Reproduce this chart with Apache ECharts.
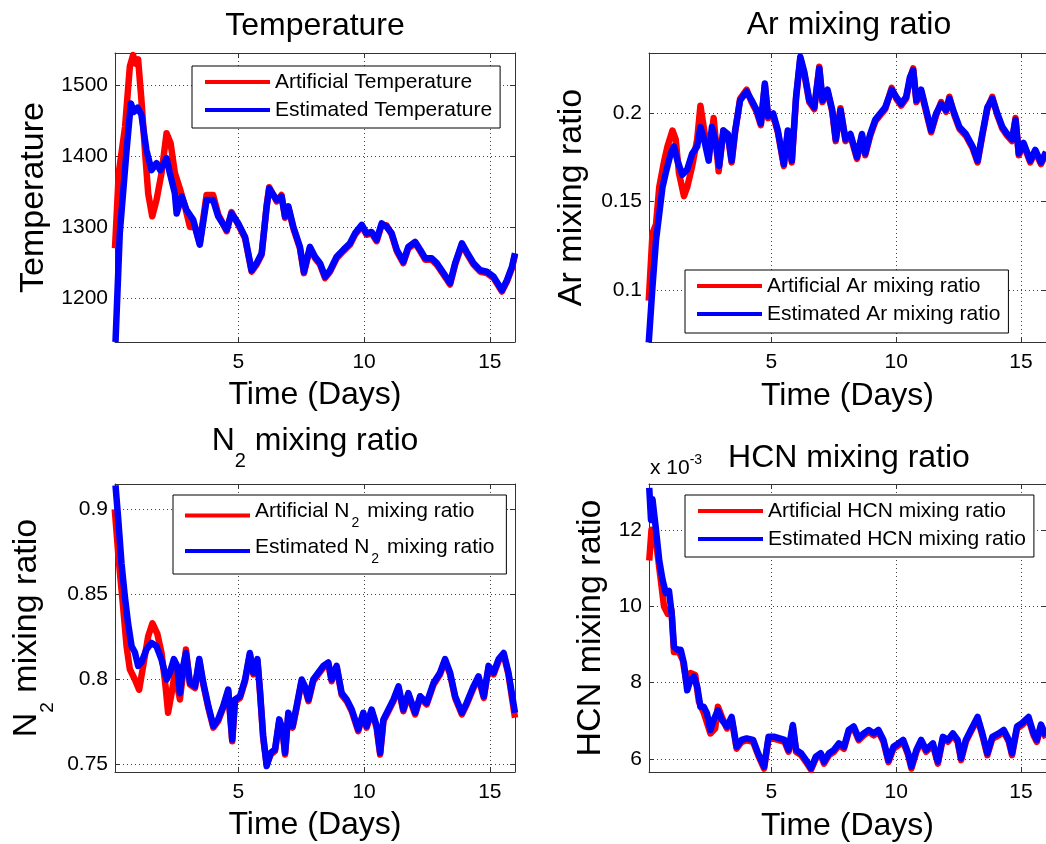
<!DOCTYPE html>
<html><head><meta charset="utf-8">
<script src="https://cdn.jsdelivr.net/npm/echarts@6/dist/echarts.min.js"></script>
<style>html,body{margin:0;padding:0;background:#fff}#c{width:1046px;height:844px}</style>
</head><body><div id="c"></div>
<script>
const FONT = '"Liberation Sans", Arial, Helvetica, sans-serif';

// ---- data: [time (days), value] ----
const tempEst = [[0.12,1138],[0.29,1291],[0.56,1408],[0.73,1474],[0.85,1462],[1.0,1468],[1.15,1458],[1.35,1408],[1.55,1380],[1.75,1390],[1.9,1380],[2.15,1397],[2.28,1376],[2.48,1347],[2.55,1319],[2.75,1343],[2.94,1324],[3.21,1310],[3.47,1275],[3.74,1338],[4.0,1338],[4.2,1315],[4.54,1296],[4.73,1319],[5.0,1305],[5.27,1286],[5.53,1239],[5.73,1249],[5.93,1263],[6.13,1329],[6.23,1354],[6.53,1338],[6.72,1343],[6.86,1315],[6.99,1329],[7.19,1300],[7.45,1272],[7.61,1237],[7.85,1272],[8.05,1258],[8.25,1249],[8.45,1230],[8.65,1239],[8.91,1258],[9.18,1268],[9.44,1277],[9.64,1291],[9.91,1303],[10.1,1291],[10.3,1293],[10.5,1282],[10.7,1305],[10.9,1300],[11.1,1291],[11.3,1268],[11.56,1251],[11.76,1272],[12.03,1279],[12.23,1268],[12.43,1256],[12.69,1256],[12.89,1249],[13.16,1235],[13.42,1221],[13.62,1249],[13.89,1277],[14.08,1265],[14.35,1249],[14.62,1239],[14.88,1237],[15.15,1230],[15.48,1211],[15.68,1225],[15.88,1244],[16.0,1263]];
const tempArt = [[0.1,1270],[0.25,1376],[0.5,1441],[0.69,1526],[0.82,1542],[0.92,1530],[1.02,1536],[1.15,1479],[1.29,1408],[1.42,1347],[1.58,1315],[1.75,1338],[1.95,1376],[2.15,1432],[2.31,1418],[2.48,1376],[2.68,1354],[2.88,1329],[3.08,1300],[3.28,1300],[3.47,1277],[3.74,1345],[4.0,1345],[4.2,1318],[4.54,1294],[4.73,1321],[5.0,1303],[5.27,1284],[5.53,1237],[5.73,1247],[5.93,1261],[6.13,1331],[6.23,1356],[6.53,1336],[6.72,1345],[6.86,1313],[6.99,1327],[7.19,1298],[7.45,1270],[7.61,1235],[7.85,1270],[8.05,1256],[8.25,1247],[8.45,1228],[8.65,1237],[8.91,1256],[9.18,1266],[9.44,1275],[9.64,1289],[9.91,1301],[10.1,1289],[10.3,1291],[10.5,1280],[10.7,1303],[10.9,1302],[11.1,1289],[11.3,1266],[11.56,1249],[11.76,1270],[12.03,1277],[12.23,1266],[12.43,1254],[12.69,1254],[12.89,1247],[13.16,1233],[13.42,1219],[13.62,1247],[13.89,1275],[14.08,1263],[14.35,1247],[14.62,1237],[14.88,1235],[15.15,1228],[15.48,1209],[15.68,1223],[15.88,1242],[16.0,1261]];

const arEst = [[0.09,0.0705],[0.24,0.102],[0.38,0.128],[0.51,0.143],[0.64,0.158],[0.77,0.166],[0.97,0.177],[1.1,0.181],[1.24,0.173],[1.43,0.165],[1.63,0.168],[1.83,0.177],[2.03,0.181],[2.16,0.192],[2.29,0.186],[2.49,0.173],[2.62,0.192],[2.75,0.185],[2.91,0.170],[3.08,0.190],[3.26,0.188],[3.41,0.173],[3.55,0.190],[3.75,0.207],[4.01,0.212],[4.21,0.207],[4.41,0.2015],[4.58,0.194],[4.74,0.2165],[4.87,0.198],[5.07,0.1996],[5.26,0.190],[5.5,0.171],[5.66,0.190],[5.82,0.173],[5.99,0.209],[6.16,0.2316],[6.32,0.223],[6.52,0.207],[6.72,0.203],[6.92,0.225],[7.05,0.207],[7.25,0.213],[7.44,0.2015],[7.58,0.185],[7.77,0.2015],[7.97,0.185],[8.17,0.188],[8.43,0.175],[8.63,0.188],[8.76,0.177],[8.96,0.188],[9.16,0.196],[9.36,0.1996],[9.56,0.203],[9.82,0.213],[10.0,0.209],[10.2,0.205],[10.4,0.209],[10.55,0.220],[10.68,0.224],[10.81,0.207],[11.0,0.213],[11.2,0.2015],[11.4,0.190],[11.6,0.1996],[11.8,0.205],[12.0,0.2015],[12.13,0.208],[12.33,0.1996],[12.53,0.192],[12.79,0.188],[13.06,0.181],[13.26,0.173],[13.45,0.188],[13.65,0.203],[13.85,0.208],[14.05,0.1996],[14.25,0.192],[14.45,0.188],[14.64,0.185],[14.78,0.196],[14.91,0.177],[15.1,0.183],[15.37,0.173],[15.57,0.179],[15.8,0.172],[16.0,0.178]];
const arArt = [[0.09,0.094],[0.24,0.132],[0.38,0.137],[0.51,0.158],[0.71,0.173],[0.84,0.181],[1.04,0.190],[1.17,0.185],[1.3,0.166],[1.5,0.153],[1.63,0.158],[1.83,0.170],[2.03,0.185],[2.16,0.204],[2.29,0.192],[2.49,0.175],[2.69,0.197],[2.89,0.167],[3.08,0.190],[3.26,0.187],[3.41,0.172],[3.55,0.189],[3.75,0.208],[4.01,0.213],[4.21,0.206],[4.41,0.2005],[4.58,0.193],[4.74,0.2155],[4.87,0.197],[5.07,0.1986],[5.26,0.189],[5.5,0.170],[5.66,0.189],[5.82,0.172],[5.99,0.208],[6.16,0.2306],[6.32,0.222],[6.52,0.206],[6.72,0.202],[6.92,0.226],[7.05,0.206],[7.25,0.212],[7.44,0.2005],[7.58,0.184],[7.77,0.2025],[7.97,0.184],[8.17,0.187],[8.43,0.174],[8.63,0.187],[8.76,0.176],[8.96,0.187],[9.16,0.195],[9.36,0.1986],[9.56,0.202],[9.82,0.214],[10.0,0.208],[10.2,0.204],[10.4,0.208],[10.55,0.219],[10.68,0.225],[10.81,0.206],[11.0,0.212],[11.2,0.2005],[11.4,0.189],[11.6,0.1986],[11.8,0.206],[12.0,0.2005],[12.13,0.209],[12.33,0.1986],[12.53,0.191],[12.79,0.187],[13.06,0.180],[13.26,0.172],[13.45,0.187],[13.65,0.202],[13.85,0.209],[14.05,0.1986],[14.25,0.191],[14.45,0.187],[14.64,0.184],[14.78,0.197],[14.91,0.176],[15.1,0.182],[15.37,0.172],[15.57,0.178],[15.8,0.171],[16.0,0.177]];

const n2Est = [[0.12,0.914],[0.23,0.894],[0.36,0.868],[0.49,0.849],[0.62,0.833],[0.76,0.8195],[0.89,0.816],[1.02,0.808],[1.15,0.810],[1.35,0.8176],[1.55,0.8215],[1.75,0.8195],[1.95,0.8117],[2.15,0.800],[2.28,0.804],[2.44,0.812],[2.57,0.808],[2.68,0.792],[2.81,0.808],[2.92,0.8156],[3.08,0.798],[3.28,0.796],[3.45,0.812],[3.61,0.798],[3.81,0.7844],[4.01,0.7727],[4.2,0.7766],[4.4,0.7844],[4.6,0.7941],[4.76,0.7648],[4.87,0.7883],[5.07,0.7902],[5.27,0.800],[5.46,0.8156],[5.6,0.804],[5.76,0.812],[5.86,0.7941],[5.99,0.7668],[6.13,0.7492],[6.29,0.757],[6.46,0.759],[6.63,0.7766],[6.76,0.7707],[6.86,0.757],[6.99,0.7805],[7.16,0.7727],[7.32,0.7844],[7.52,0.800],[7.65,0.796],[7.79,0.7883],[7.98,0.800],[8.18,0.804],[8.38,0.808],[8.58,0.810],[8.71,0.800],[8.91,0.808],[9.11,0.792],[9.31,0.7883],[9.51,0.7824],[9.77,0.7707],[9.97,0.7805],[10.1,0.7727],[10.3,0.7824],[10.5,0.7727],[10.64,0.757],[10.77,0.7766],[10.97,0.7824],[11.17,0.7883],[11.37,0.796],[11.56,0.7824],[11.76,0.792],[12.03,0.7805],[12.23,0.7902],[12.49,0.7863],[12.76,0.798],[13.02,0.804],[13.22,0.812],[13.42,0.804],[13.62,0.7902],[13.89,0.7805],[14.08,0.7863],[14.35,0.796],[14.55,0.8019],[14.76,0.7902],[14.95,0.808],[15.15,0.804],[15.35,0.812],[15.55,0.8156],[15.74,0.804],[16.0,0.7805]];
const n2Art = [[0.09,0.900],[0.25,0.870],[0.42,0.843],[0.56,0.8195],[0.69,0.806],[0.89,0.800],[1.06,0.794],[1.22,0.808],[1.42,0.8254],[1.59,0.833],[1.78,0.827],[1.95,0.8156],[2.11,0.796],[2.21,0.7805],[2.35,0.792],[2.48,0.804],[2.68,0.7883],[2.92,0.8176],[3.08,0.797],[3.28,0.795],[3.45,0.811],[3.61,0.797],[3.81,0.7834],[4.01,0.7717],[4.2,0.7756],[4.4,0.7834],[4.6,0.7931],[4.76,0.7638],[4.87,0.7873],[5.07,0.7892],[5.27,0.799],[5.46,0.8146],[5.6,0.803],[5.76,0.811],[5.86,0.7931],[5.99,0.7658],[6.13,0.7502],[6.29,0.756],[6.46,0.758],[6.63,0.7756],[6.76,0.7697],[6.86,0.756],[6.99,0.7795],[7.16,0.7717],[7.32,0.7834],[7.52,0.799],[7.65,0.795],[7.79,0.7873],[7.98,0.799],[8.18,0.803],[8.38,0.807],[8.58,0.809],[8.71,0.799],[8.91,0.807],[9.11,0.791],[9.31,0.7873],[9.51,0.7814],[9.77,0.7697],[9.97,0.7795],[10.1,0.7717],[10.3,0.7814],[10.5,0.7717],[10.64,0.756],[10.77,0.7756],[10.97,0.7814],[11.17,0.7873],[11.37,0.795],[11.56,0.7814],[11.76,0.791],[12.03,0.7795],[12.23,0.7892],[12.49,0.7853],[12.76,0.797],[13.02,0.803],[13.22,0.811],[13.42,0.803],[13.62,0.7892],[13.89,0.7795],[14.08,0.7853],[14.35,0.795],[14.55,0.8009],[14.76,0.7892],[14.95,0.807],[15.15,0.803],[15.35,0.811],[15.55,0.8146],[15.74,0.803],[16.0,0.7775]];

// HCN values in units of 1e-3
const hcnEst = [[0.11,13.1],[0.18,12.26],[0.24,12.8],[0.31,12.4],[0.38,12.0],[0.51,11.2],[0.64,10.7],[0.77,10.35],[0.9,10.4],[1.01,9.8],[1.1,8.94],[1.24,8.86],[1.37,8.86],[1.5,8.5],[1.63,7.8],[1.76,8.07],[1.9,8.16],[2.03,7.9],[2.16,7.37],[2.29,7.37],[2.42,7.2],[2.56,6.76],[2.69,7.02],[2.86,7.28],[3.02,7.02],[3.22,6.85],[3.41,7.1],[3.61,6.32],[3.81,6.5],[4.01,6.54],[4.27,6.5],[4.47,6.15],[4.71,5.8],[4.89,6.58],[5.13,6.58],[5.33,6.54],[5.53,6.5],[5.69,6.24],[5.86,6.89],[5.99,6.24],[6.19,6.15],[6.39,5.97],[6.59,5.76],[6.78,6.06],[6.98,6.15],[7.11,5.93],[7.31,6.15],[7.51,6.24],[7.71,6.41],[7.91,6.32],[8.1,6.76],[8.3,6.85],[8.5,6.54],[8.7,6.67],[8.9,6.76],[9.1,6.67],[9.29,6.76],[9.49,6.5],[9.69,5.97],[9.89,6.32],[10.09,6.41],[10.28,6.5],[10.48,6.15],[10.61,5.8],[10.81,6.24],[11.0,6.5],[11.2,6.24],[11.47,6.41],[11.67,5.93],[11.87,6.58],[12.07,6.5],[12.27,6.67],[12.46,6.5],[12.6,6.02],[12.79,6.5],[12.99,6.76],[13.26,7.1],[13.45,6.67],[13.65,6.15],[13.85,6.58],[14.11,6.67],[14.31,6.76],[14.51,6.5],[14.64,6.15],[14.84,6.85],[15.04,6.94],[15.3,7.1],[15.5,6.67],[15.63,6.5],[15.8,6.9],[16.0,6.6]];
const hcnArt = [[0.11,11.2],[0.2,12.0],[0.3,11.9],[0.4,11.6],[0.55,10.8],[0.7,10.0],[0.85,9.8],[1.0,9.9],[1.1,8.8],[1.3,8.8],[1.45,8.6],[1.6,8.0],[1.76,8.25],[1.95,8.2],[2.1,7.5],[2.3,7.2],[2.56,6.67],[2.75,6.8],[2.86,7.37],[3.02,7.1],[3.22,6.8],[3.41,7.05],[3.61,6.27],[3.81,6.45],[4.01,6.49],[4.27,6.45],[4.47,6.1],[4.71,5.75],[4.89,6.53],[5.13,6.53],[5.33,6.49],[5.53,6.45],[5.69,6.19],[5.86,6.84],[5.99,6.19],[6.19,6.1],[6.39,5.92],[6.59,5.72],[6.78,6.01],[6.98,6.1],[7.11,5.88],[7.31,6.1],[7.51,6.19],[7.71,6.36],[7.91,6.27],[8.1,6.71],[8.3,6.8],[8.5,6.49],[8.7,6.62],[8.9,6.71],[9.1,6.62],[9.29,6.71],[9.49,6.45],[9.69,5.92],[9.89,6.27],[10.09,6.36],[10.28,6.45],[10.48,6.1],[10.61,5.75],[10.81,6.19],[11.0,6.45],[11.2,6.19],[11.47,6.36],[11.67,5.88],[11.87,6.53],[12.07,6.45],[12.27,6.62],[12.46,6.45],[12.6,5.97],[12.79,6.45],[12.99,6.71],[13.26,7.05],[13.45,6.62],[13.65,6.1],[13.85,6.53],[14.11,6.62],[14.31,6.71],[14.51,6.45],[14.64,6.1],[14.84,6.8],[15.04,6.89],[15.3,7.05],[15.5,6.62],[15.63,6.45],[15.8,6.85],[16.0,6.55]];

// axis ranges
const xRange = [0.1, 16];
const tempRange = [1138, 1545];
const arRange = [0.0707, 0.2337];
const n2Range = [0.7457, 0.9148];
const hcnRange = [5.66, 13.2];

const AX = '#333';
const grids = [
  {left:115, top:53, width:400, height:289},
  {left:649, top:53, width:400, height:289},
  {left:115, top:484, width:400, height:288},
  {left:649, top:484, width:400, height:288}
];
const plainNum = v => String(+v.toFixed(6));

function xAxes(g, nameGap){
  const base = {type:'value', gridIndex:g, min:xRange[0], max:xRange[1], splitNumber:3, minInterval:5, maxInterval:5,
    axisLine:{show:true, onZero:false, lineStyle:{color:AX, width:1}},
    axisTick:{show:true, inside:true, length:5, lineStyle:{color:AX}}};
  return [
    Object.assign({}, base, {position:'bottom', name:'Time (Days)', nameLocation:'middle', nameGap,
      nameTextStyle:{fontFamily:FONT, fontSize:32, color:'#000'},
      axisLabel:{show:true, fontFamily:FONT, fontSize:21, color:'#000', margin:10, showMinLabel:false, showMaxLabel:false, formatter:plainNum},
      splitLine:{show:true, lineStyle:{type:[1,3], color:'#444', width:1}}}),
    Object.assign({}, base, {position:'top', axisLabel:{show:false}, splitLine:{show:false}})
  ];
}
function yAxes(g, range, interval, name, nameGap, rich){
  const base = {type:'value', gridIndex:g, min:range[0], max:range[1], splitNumber:4, minInterval:interval, maxInterval:interval,
    axisLine:{show:true, onZero:false, lineStyle:{color:AX, width:1}},
    axisTick:{show:true, inside:true, length:5, lineStyle:{color:AX}}};
  return [
    Object.assign({}, base, {position:'left', name, nameLocation:'middle', nameGap,
      nameTextStyle:{fontFamily:FONT, fontSize:34, color:'#000', rich: rich || {}},
      axisLabel:{show:true, fontFamily:FONT, fontSize:21, color:'#000', margin:7, showMinLabel:false, showMaxLabel:false, formatter:plainNum},
      splitLine:{show:true, lineStyle:{type:[1,3], color:'#444', width:1}}}),
    Object.assign({}, base, {position:'right', axisLabel:{show:false}, splitLine:{show:false}})
  ];
}

const subRichName = {n:{fontFamily:FONT, fontSize:34, color:'#000'}, s:{fontFamily:FONT, fontSize:19, color:'#000', padding:[21,0,-21,0]}};

const xAxis = [].concat(xAxes(0,37), xAxes(1,38), xAxes(2,37), xAxes(3,38));
const yAxis = [].concat(
  yAxes(0, tempRange, 100, 'Temperature', 64),
  yAxes(1, arRange, 0.05, 'Ar mixing ratio', 60),
  yAxes(2, n2Range, 0.05, '{n|N}{s|2}{n| mixing ratio}', 71, subRichName),
  yAxes(3, hcnRange, 2, 'HCN mixing ratio', 41)
);

function line(name, data, g, color){
  return {type:'line', name, data, xAxisIndex:2*g, yAxisIndex:2*g, showSymbol:false, symbol:'none',
    lineStyle:{color, width:6.5, join:'round'}, itemStyle:{color}, animation:false, clip:true};
}
const RED = '#ff0000', BLUE = '#0000ff';
const series = [
  line('Artificial Temperature', tempArt, 0, RED), line('Estimated Temperature', tempEst, 0, BLUE),
  line('Artificial Ar mixing ratio', arArt, 1, RED), line('Estimated Ar mixing ratio', arEst, 1, BLUE),
  line('Artificial N2 mixing ratio', n2Art, 2, RED), line('Estimated N2 mixing ratio', n2Est, 2, BLUE),
  line('Artificial HCN mixing ratio', hcnArt, 3, RED), line('Estimated HCN mixing ratio', hcnEst, 3, BLUE)
];

function legend(names, left, top, pad, gap, extra){
  return Object.assign({data:names, left, top, orient:'vertical', itemWidth:65, itemHeight:4, itemGap:gap, padding:pad,
    borderColor:'#000', borderWidth:1, backgroundColor:'#fff', icon:'rect', selectedMode:false,
    textStyle:{fontFamily:FONT, fontSize:21, color:'#000', lineHeight:24}}, extra || {});
}
const n2LegendFmt = name => {
  const parts = name.split('N2');
  return '{n|' + parts[0] + 'N}{s|2}{n|' + parts[1] + '}';
};
const legends = [
  legend(['Artificial Temperature','Estimated Temperature'], 192, 66, [4,8,6,13], 4),
  legend(['Artificial Ar mixing ratio','Estimated Ar mixing ratio'], 685, 270, [4,8,7,12], 4),
  legend(['Artificial N2 mixing ratio','Estimated N2 mixing ratio'], 173, 495, [6,12,8,12], 6, {
    formatter: n2LegendFmt,
    textStyle:{fontFamily:FONT, fontSize:21, color:'#000', rich:{
      n:{fontFamily:FONT, fontSize:21, color:'#000', lineHeight:24, padding:[0,0,8,0]},
      s:{fontFamily:FONT, fontSize:14, color:'#000', lineHeight:14, padding:[8,2,-8,2]}}}}),
  legend(['Artificial HCN mixing ratio','Estimated HCN mixing ratio'], 685, 495, [4,8,6,13], 4)
];

const titleStyle = {fontFamily:FONT, fontSize:32, fontWeight:'normal', color:'#000'};
const titles = [
  {text:'Temperature', left:315, top:10, textAlign:'center', padding:0, textStyle:titleStyle},
  {text:'Ar mixing ratio', left:849, top:9, textAlign:'center', padding:0, textStyle:titleStyle},
  {text:'{n|N}{s|2}{n| mixing ratio}', left:315, top:425, textAlign:'center', padding:0, textStyle:Object.assign({}, titleStyle, {rich:{
    n:{fontFamily:FONT, fontSize:32, fontWeight:'normal', color:'#000'}, s:{fontFamily:FONT, fontSize:20, fontWeight:'normal', color:'#000', padding:[20,0,-20,0]}}})},
  {text:'HCN mixing ratio', left:849, top:442, textAlign:'center', padding:0, textStyle:titleStyle},
  {text:'{a|x 10}{b|-3}', left:650, top:458, padding:0, textStyle:{fontFamily:FONT, fontSize:21, fontWeight:'normal', color:'#000', rich:{
    a:{fontFamily:FONT, fontSize:21, fontWeight:'normal', color:'#000'}, b:{fontFamily:FONT, fontSize:14, fontWeight:'normal', color:'#000', padding:[-8,0,8,0]}}}}
];

const chart = echarts.init(document.getElementById('c'), null, {renderer:'canvas'});
chart.setOption({
  backgroundColor:'#fff', animation:false,
  title: titles, legend: legends, grid: grids, xAxis, yAxis, series,
  tooltip:{show:false}
});
</script></body></html>
